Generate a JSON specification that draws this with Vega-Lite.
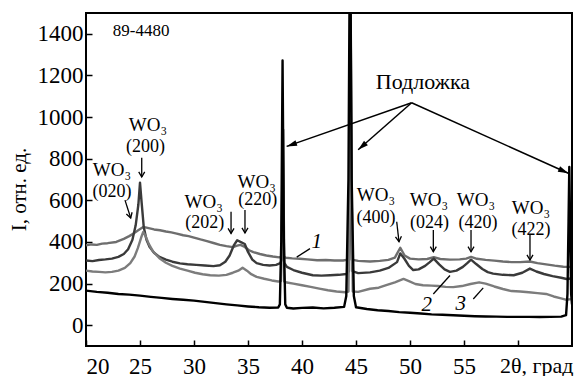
{
 "$schema": "https://vega.github.io/schema/vega-lite/v6.json",
 "width": 486,
 "height": 333,
 "autosize": "none",
 "padding": {"left": 86, "top": 13, "right": 5, "bottom": 30},
 "background": "white",
 "config": {"view": {"stroke": "black", "strokeWidth": 2}, "font": "Liberation Serif"},
 "datasets": {
  "curves": [
   {"s":"1","t":20,"i":384},{"s":"1","t":20.5,"i":388},{"s":"1","t":21,"i":386},{"s":"1","t":21.5,"i":392},{"s":"1","t":22,"i":394},{"s":"1","t":22.8,"i":400},{"s":"1","t":23.5,"i":415},{"s":"1","t":24,"i":428},{"s":"1","t":24.4,"i":440},{"s":"1","t":24.8,"i":455},{"s":"1","t":25.3,"i":472},{"s":"1","t":25.8,"i":466},{"s":"1","t":26.3,"i":460},{"s":"1","t":26.85,"i":456},{"s":"1","t":27.4,"i":450},{"s":"1","t":27.9,"i":446},{"s":"1","t":28.4,"i":440},{"s":"1","t":29,"i":432},{"s":"1","t":29.5,"i":428},{"s":"1","t":30,"i":421},{"s":"1","t":30.6,"i":412},{"s":"1","t":31.2,"i":404},{"s":"1","t":31.8,"i":395},{"s":"1","t":32.4,"i":386},{"s":"1","t":33,"i":380},{"s":"1","t":33.6,"i":375},{"s":"1","t":34,"i":382},{"s":"1","t":34.3,"i":386},{"s":"1","t":34.7,"i":376},{"s":"1","t":35.1,"i":360},{"s":"1","t":35.5,"i":351},{"s":"1","t":36.1,"i":342},{"s":"1","t":36.7,"i":335},{"s":"1","t":37.3,"i":330},{"s":"1","t":37.9,"i":326},{"s":"1","t":38.1,"i":330},{"s":"1","t":38.2,"i":620},{"s":"1","t":38.3,"i":330},{"s":"1","t":38.5,"i":324},{"s":"1","t":39.1,"i":321},{"s":"1","t":39.8,"i":319},{"s":"1","t":40.5,"i":316},{"s":"1","t":41.4,"i":312},{"s":"1","t":42.2,"i":313},{"s":"1","t":43,"i":311},{"s":"1","t":43.8,"i":311},{"s":"1","t":44.3,"i":315},{"s":"1","t":44.45,"i":800},{"s":"1","t":44.6,"i":315},{"s":"1","t":45.2,"i":309},{"s":"1","t":46.3,"i":306},{"s":"1","t":47.2,"i":309},{"s":"1","t":48,"i":314},{"s":"1","t":48.6,"i":325},{"s":"1","t":49.1,"i":372},{"s":"1","t":49.5,"i":335},{"s":"1","t":50,"i":320},{"s":"1","t":50.8,"i":316},{"s":"1","t":51.6,"i":318},{"s":"1","t":52.2,"i":327},{"s":"1","t":52.8,"i":318},{"s":"1","t":53.7,"i":315},{"s":"1","t":54.6,"i":316},{"s":"1","t":55.2,"i":320},{"s":"1","t":55.65,"i":328},{"s":"1","t":56.2,"i":319},{"s":"1","t":57,"i":314},{"s":"1","t":57.8,"i":310},{"s":"1","t":58.6,"i":306},{"s":"1","t":59.4,"i":303},{"s":"1","t":60.2,"i":303},{"s":"1","t":61.1,"i":306},{"s":"1","t":61.8,"i":298},{"s":"1","t":62.6,"i":292},{"s":"1","t":63.4,"i":286},{"s":"1","t":64.2,"i":281},{"s":"1","t":64.9,"i":280},
   {"s":"2","t":20,"i":311},{"s":"2","t":20.6,"i":308},{"s":"2","t":21.2,"i":313},{"s":"2","t":21.8,"i":316},{"s":"2","t":22.4,"i":320},{"s":"2","t":23,"i":328},{"s":"2","t":23.5,"i":342},{"s":"2","t":23.9,"i":365},{"s":"2","t":24.3,"i":410},{"s":"2","t":24.6,"i":480},{"s":"2","t":24.85,"i":580},{"s":"2","t":25,"i":685},{"s":"2","t":25.15,"i":590},{"s":"2","t":25.35,"i":470},{"s":"2","t":25.6,"i":410},{"s":"2","t":25.9,"i":375},{"s":"2","t":26.3,"i":348},{"s":"2","t":26.8,"i":328},{"s":"2","t":27.4,"i":315},{"s":"2","t":28,"i":305},{"s":"2","t":28.7,"i":297},{"s":"2","t":29.4,"i":293},{"s":"2","t":30.2,"i":290},{"s":"2","t":31,"i":287},{"s":"2","t":31.8,"i":284},{"s":"2","t":32.4,"i":288},{"s":"2","t":32.9,"i":305},{"s":"2","t":33.3,"i":335},{"s":"2","t":33.7,"i":385},{"s":"2","t":34,"i":408},{"s":"2","t":34.3,"i":400},{"s":"2","t":34.7,"i":390},{"s":"2","t":35,"i":352},{"s":"2","t":35.4,"i":315},{"s":"2","t":35.8,"i":298},{"s":"2","t":36.4,"i":290},{"s":"2","t":37,"i":287},{"s":"2","t":37.6,"i":290},{"s":"2","t":38,"i":298},{"s":"2","t":38.15,"i":320},{"s":"2","t":38.25,"i":940},{"s":"2","t":38.35,"i":300},{"s":"2","t":38.6,"i":280},{"s":"2","t":39.2,"i":265},{"s":"2","t":40,"i":252},{"s":"2","t":41,"i":240},{"s":"2","t":41.8,"i":238},{"s":"2","t":42.6,"i":240},{"s":"2","t":43.4,"i":242},{"s":"2","t":44.1,"i":246},{"s":"2","t":44.35,"i":260},{"s":"2","t":44.5,"i":1500},{"s":"2","t":44.65,"i":260},{"s":"2","t":45.2,"i":250},{"s":"2","t":46.3,"i":254},{"s":"2","t":47.2,"i":262},{"s":"2","t":48,"i":275},{"s":"2","t":48.8,"i":303},{"s":"2","t":49.1,"i":345},{"s":"2","t":49.5,"i":318},{"s":"2","t":49.9,"i":285},{"s":"2","t":50.3,"i":265},{"s":"2","t":50.8,"i":268},{"s":"2","t":51.4,"i":285},{"s":"2","t":51.8,"i":302},{"s":"2","t":52.2,"i":320},{"s":"2","t":52.7,"i":292},{"s":"2","t":53.2,"i":268},{"s":"2","t":53.7,"i":256},{"s":"2","t":54.3,"i":262},{"s":"2","t":54.9,"i":280},{"s":"2","t":55.3,"i":298},{"s":"2","t":55.65,"i":315},{"s":"2","t":56.1,"i":295},{"s":"2","t":56.7,"i":270},{"s":"2","t":57.2,"i":255},{"s":"2","t":57.7,"i":248},{"s":"2","t":58.6,"i":242},{"s":"2","t":59.6,"i":240},{"s":"2","t":60.4,"i":252},{"s":"2","t":61.1,"i":272},{"s":"2","t":61.7,"i":258},{"s":"2","t":62.4,"i":246},{"s":"2","t":63.2,"i":236},{"s":"2","t":64,"i":228},{"s":"2","t":64.5,"i":222},{"s":"2","t":64.9,"i":224},
   {"s":"3","t":20,"i":262},{"s":"3","t":20.6,"i":258},{"s":"3","t":21.2,"i":256},{"s":"3","t":21.8,"i":254},{"s":"3","t":22.4,"i":256},{"s":"3","t":23,"i":262},{"s":"3","t":23.6,"i":275},{"s":"3","t":24.1,"i":298},{"s":"3","t":24.5,"i":330},{"s":"3","t":24.8,"i":370},{"s":"3","t":25.1,"i":420},{"s":"3","t":25.3,"i":448},{"s":"3","t":25.5,"i":430},{"s":"3","t":25.8,"i":392},{"s":"3","t":26.2,"i":355},{"s":"3","t":26.8,"i":322},{"s":"3","t":27.4,"i":300},{"s":"3","t":28,"i":285},{"s":"3","t":28.7,"i":272},{"s":"3","t":29.4,"i":262},{"s":"3","t":30.1,"i":252},{"s":"3","t":30.8,"i":245},{"s":"3","t":31.5,"i":240},{"s":"3","t":32.3,"i":238},{"s":"3","t":33,"i":242},{"s":"3","t":33.6,"i":252},{"s":"3","t":34.1,"i":262},{"s":"3","t":34.5,"i":276},{"s":"3","t":34.9,"i":262},{"s":"3","t":35.3,"i":245},{"s":"3","t":35.8,"i":232},{"s":"3","t":36.5,"i":223},{"s":"3","t":37.2,"i":215},{"s":"3","t":37.8,"i":210},{"s":"3","t":38.05,"i":212},{"s":"3","t":38.2,"i":770},{"s":"3","t":38.35,"i":210},{"s":"3","t":38.6,"i":205},{"s":"3","t":39.2,"i":200},{"s":"3","t":40,"i":192},{"s":"3","t":40.8,"i":184},{"s":"3","t":41.6,"i":176},{"s":"3","t":42.4,"i":168},{"s":"3","t":43.2,"i":162},{"s":"3","t":44,"i":158},{"s":"3","t":44.3,"i":162},{"s":"3","t":44.5,"i":1100},{"s":"3","t":44.7,"i":162},{"s":"3","t":45.2,"i":160},{"s":"3","t":46.3,"i":175},{"s":"3","t":47.1,"i":180},{"s":"3","t":47.8,"i":192},{"s":"3","t":48.6,"i":206},{"s":"3","t":49.4,"i":222},{"s":"3","t":49.9,"i":212},{"s":"3","t":50.5,"i":198},{"s":"3","t":51.2,"i":192},{"s":"3","t":52,"i":190},{"s":"3","t":52.6,"i":188},{"s":"3","t":53.3,"i":184},{"s":"3","t":54,"i":183},{"s":"3","t":54.8,"i":188},{"s":"3","t":55.6,"i":198},{"s":"3","t":56.4,"i":206},{"s":"3","t":57,"i":200},{"s":"3","t":57.8,"i":186},{"s":"3","t":58.6,"i":174},{"s":"3","t":59.4,"i":164},{"s":"3","t":60.2,"i":162},{"s":"3","t":61,"i":158},{"s":"3","t":61.8,"i":154},{"s":"3","t":62.6,"i":150},{"s":"3","t":63.3,"i":138},{"s":"3","t":63.9,"i":130},{"s":"3","t":64.5,"i":122},{"s":"3","t":64.9,"i":125},
   {"s":"4","t":20,"i":166},{"s":"4","t":21,"i":160},{"s":"4","t":22,"i":156},{"s":"4","t":23,"i":150},{"s":"4","t":24,"i":147},{"s":"4","t":25,"i":142},{"s":"4","t":26,"i":136},{"s":"4","t":27,"i":131},{"s":"4","t":28,"i":126},{"s":"4","t":29,"i":122},{"s":"4","t":30,"i":118},{"s":"4","t":31,"i":112},{"s":"4","t":32,"i":106},{"s":"4","t":33,"i":100},{"s":"4","t":34,"i":95},{"s":"4","t":35,"i":90},{"s":"4","t":36,"i":86},{"s":"4","t":37,"i":84},{"s":"4","t":37.8,"i":85},{"s":"4","t":37.95,"i":100},{"s":"4","t":38.08,"i":400},{"s":"4","t":38.2,"i":1272},{"s":"4","t":38.32,"i":400},{"s":"4","t":38.45,"i":100},{"s":"4","t":38.6,"i":84},{"s":"4","t":39.2,"i":80},{"s":"4","t":40,"i":83},{"s":"4","t":41,"i":85},{"s":"4","t":42,"i":81},{"s":"4","t":43,"i":84},{"s":"4","t":43.9,"i":88},{"s":"4","t":44.1,"i":140},{"s":"4","t":44.3,"i":700},{"s":"4","t":44.45,"i":2000},{"s":"4","t":44.6,"i":700},{"s":"4","t":44.8,"i":140},{"s":"4","t":45,"i":86},{"s":"4","t":46,"i":78},{"s":"4","t":47,"i":72},{"s":"4","t":48,"i":68},{"s":"4","t":49,"i":63},{"s":"4","t":50,"i":60},{"s":"4","t":51,"i":56},{"s":"4","t":52,"i":52},{"s":"4","t":53,"i":50},{"s":"4","t":54,"i":48},{"s":"4","t":55,"i":45},{"s":"4","t":56,"i":43},{"s":"4","t":57,"i":42},{"s":"4","t":58,"i":41},{"s":"4","t":59,"i":40},{"s":"4","t":60,"i":40},{"s":"4","t":61,"i":40},{"s":"4","t":62,"i":39},{"s":"4","t":63,"i":40},{"s":"4","t":64,"i":41},{"s":"4","t":64.45,"i":48},{"s":"4","t":64.58,"i":150},{"s":"4","t":64.68,"i":500},{"s":"4","t":64.75,"i":760},{"s":"4","t":64.82,"i":500},{"s":"4","t":64.92,"i":150},{"s":"4","t":65,"i":100}
  ],
  "wo": [
   {"t":22.4,"i":746},{"t":25.74,"i":963},{"t":30.9,"i":593},{"t":35.8,"i":690},{"t":46.85,"i":626},{"t":51.76,"i":601},{"t":56.1,"i":601},{"t":61.2,"i":561}
  ],
  "hkl": [
   {"t":22.4,"i":641,"txt":"(020)"},{"t":25.5,"i":858,"txt":"(200)"},{"t":31.0,"i":489,"txt":"(202)"},{"t":35.9,"i":601,"txt":"(220)"},{"t":46.85,"i":513,"txt":"(400)"},{"t":51.8,"i":492,"txt":"(024)"},{"t":56.3,"i":492,"txt":"(420)"},{"t":61.2,"i":456,"txt":"(422)"}
  ],
  "arr": [
   {"t":25.16,"i":805,"t2":25.16,"i2":712},{"t":23.61,"i":601,"t2":24.14,"i2":515},{"t":33.43,"i":545,"t2":33.43,"i2":441},{"t":34.72,"i":553,"t2":34.72,"i2":443},{"t":48.77,"i":497,"t2":48.98,"i2":401},{"t":52.16,"i":457,"t2":52.16,"i2":353},{"t":55.65,"i":457,"t2":55.65,"i2":353},{"t":61.11,"i":433,"t2":61.11,"i2":313}
  ],
  "sub": [
   {"t":50.15,"i":1069,"t2":38.58,"i2":859},{"t":50.15,"i":1069,"t2":45.2,"i2":843},{"t":50.15,"i":1069,"t2":64.66,"i2":730}
  ],
  "nums": [
   {"t":41.36,"i":400,"txt":"1"},{"t":51.54,"i":97,"txt":"2"},{"t":54.7,"i":101,"txt":"3"}
  ],
  "leaders": [
   {"t":39.51,"i":327,"t2":40.74,"i2":368},{"t":52.16,"i":150,"t2":53.7,"i2":239},{"t":55.86,"i":126,"t2":56.78,"i2":179}
  ]
 },
 "layer": [
  {
   "data": {"name": "curves"},
   "mark": {"type": "line", "clip": true, "strokeWidth": 2.4, "strokeJoin": "round"},
   "encoding": {
    "x": {"field": "t", "type": "quantitative",
     "scale": {"domain": [20, 65], "nice": false, "zero": false},
     "axis": {"values": [20,25,30,35,40,45,50,55,60], "labelExpr": "datum.value == 60 ? '' : datum.label",
      "title": "2θ, град", "domain": false, "grid": false, "tickSize": -6, "tickColor": "black", "tickWidth": 1.5,
      "labelFont": "Liberation Serif", "labelFontSize": 23, "labelColor": "black", "labelPadding": 15, "labelBaseline": "top",
      "titleFont": "Liberation Serif", "titleFontSize": 22, "titleFontWeight": "normal", "titleColor": "black",
      "titleX": 487, "titleY": 9, "titleAlign": "right", "titleBaseline": "top", "titleAnchor": "end"}},
    "y": {"field": "i", "type": "quantitative",
     "scale": {"domain": [-100, 1500], "nice": false, "zero": false},
     "axis": {"values": [0,200,400,600,800,1000,1200,1400], "format": "d", "title": "I, отн. ед.", "domain": false, "grid": false,
      "tickSize": -6, "tickColor": "black", "tickWidth": 1.5,
      "labelFont": "Liberation Serif", "labelFontSize": 23, "labelColor": "black", "labelPadding": 9,
      "titleFont": "Liberation Serif", "titleFontSize": 21, "titleFontWeight": "normal", "titleColor": "black",
      "titleX": -61, "titleY": 176, "titleAngle": 270, "titleAlign": "center", "titleBaseline": "alphabetic"}},
    "color": {"field": "s", "type": "nominal", "scale": {"domain": ["1","2","3","4"], "range": ["#6e6e6e","#3a3a3a","#7c7c7c","#000000"]}, "legend": null}
   }
  },
  {
   "data": {"name": "wo"},
   "mark": {"type": "text", "text": "WO₃", "font": "Liberation Serif", "fontSize": 19, "color": "black", "align": "center", "baseline": "middle"},
   "encoding": {"x": {"field": "t", "type": "quantitative"}, "y": {"field": "i", "type": "quantitative"}}
  },
  {
   "data": {"name": "hkl"},
   "mark": {"type": "text", "font": "Liberation Serif", "fontSize": 18, "color": "black", "align": "center", "baseline": "middle"},
   "encoding": {"x": {"field": "t", "type": "quantitative"}, "y": {"field": "i", "type": "quantitative"}, "text": {"field": "txt"}}
  },
  {
   "data": {"name": "arr"},
   "mark": {"type": "rule", "color": "black", "strokeWidth": 1.3},
   "encoding": {"x": {"field": "t", "type": "quantitative"}, "y": {"field": "i", "type": "quantitative"}, "x2": {"field": "t2"}, "y2": {"field": "i2"}}
  },
  {
   "data": {"name": "arr"},
   "transform": [{"filter": "datum.t == datum.t2"}],
   "mark": {"type": "point", "shape": "M-1,-1.7L0,0L1,-1.7", "filled": false, "stroke": "black", "strokeWidth": 1.3, "size": 36, "opacity": 1},
   "encoding": {"x": {"field": "t2", "type": "quantitative"}, "y": {"field": "i2", "type": "quantitative"}}
  },
  {
   "data": {"values": [{"t": 24.14, "i": 515}]},
   "mark": {"type": "point", "shape": "M-1,-1.7L0,0L1,-1.7", "filled": false, "stroke": "black", "strokeWidth": 1.3, "size": 36, "opacity": 1, "angle": -17},
   "encoding": {"x": {"field": "t", "type": "quantitative"}, "y": {"field": "i", "type": "quantitative"}}
  },
  {
   "data": {"values": [{"t": 48.98, "i": 401}]},
   "mark": {"type": "point", "shape": "M-1,-1.7L0,0L1,-1.7", "filled": false, "stroke": "black", "strokeWidth": 1.3, "size": 36, "opacity": 1, "angle": -6},
   "encoding": {"x": {"field": "t", "type": "quantitative"}, "y": {"field": "i", "type": "quantitative"}}
  },
  {
   "data": {"values": [{"t": 25.1, "i": 1414, "txt": "89-4480"}]},
   "mark": {"type": "text", "font": "Liberation Serif", "fontSize": 17, "color": "black", "align": "center", "baseline": "middle"},
   "encoding": {"x": {"field": "t", "type": "quantitative"}, "y": {"field": "i", "type": "quantitative"}, "text": {"field": "txt"}}
  },
  {
   "data": {"values": [{"t": 51.2, "i": 1167, "txt": "Подложка"}]},
   "mark": {"type": "text", "font": "Liberation Serif", "fontSize": 22, "color": "black", "align": "center", "baseline": "middle"},
   "encoding": {"x": {"field": "t", "type": "quantitative"}, "y": {"field": "i", "type": "quantitative"}, "text": {"field": "txt"}}
  },
  {
   "data": {"name": "sub"},
   "mark": {"type": "rule", "color": "black", "strokeWidth": 1.5},
   "encoding": {"x": {"field": "t", "type": "quantitative"}, "y": {"field": "i", "type": "quantitative"}, "x2": {"field": "t2"}, "y2": {"field": "i2"}}
  },
  {
   "data": {"values": [{"t": 38.58, "i": 859}]},
   "mark": {"type": "point", "shape": "M0,0L0.65,2.3L-0.65,2.3Z", "filled": true, "fill": "black", "strokeWidth": 0, "size": 81, "angle": 251, "opacity": 1},
   "encoding": {"x": {"field": "t", "type": "quantitative"}, "y": {"field": "i", "type": "quantitative"}}
  },
  {
   "data": {"values": [{"t": 45.2, "i": 843}]},
   "mark": {"type": "point", "shape": "M0,0L0.65,2.3L-0.65,2.3Z", "filled": true, "fill": "black", "strokeWidth": 0, "size": 81, "angle": 229, "opacity": 1},
   "encoding": {"x": {"field": "t", "type": "quantitative"}, "y": {"field": "i", "type": "quantitative"}}
  },
  {
   "data": {"values": [{"t": 64.66, "i": 730}]},
   "mark": {"type": "point", "shape": "M0,0L0.65,2.3L-0.65,2.3Z", "filled": true, "fill": "black", "strokeWidth": 0, "size": 81, "angle": 114, "opacity": 1},
   "encoding": {"x": {"field": "t", "type": "quantitative"}, "y": {"field": "i", "type": "quantitative"}}
  },
  {
   "data": {"name": "nums"},
   "mark": {"type": "text", "font": "Liberation Serif", "fontStyle": "italic", "fontSize": 21, "color": "black", "align": "center", "baseline": "middle"},
   "encoding": {"x": {"field": "t", "type": "quantitative"}, "y": {"field": "i", "type": "quantitative"}, "text": {"field": "txt"}}
  },
  {
   "data": {"name": "leaders"},
   "mark": {"type": "rule", "color": "black", "strokeWidth": 1.3},
   "encoding": {"x": {"field": "t", "type": "quantitative"}, "y": {"field": "i", "type": "quantitative"}, "x2": {"field": "t2"}, "y2": {"field": "i2"}}
  }
 ]
}
